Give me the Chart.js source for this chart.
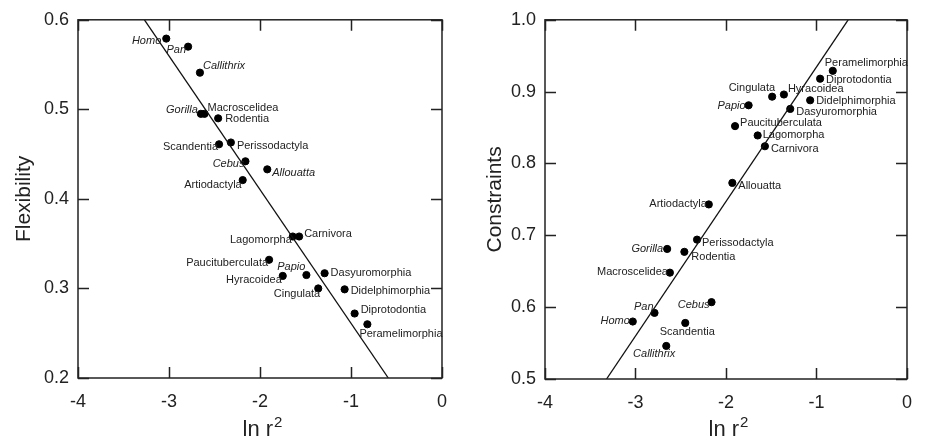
<!DOCTYPE html>
<html>
<head>
<meta charset="utf-8">
<script src="https://cdn.jsdelivr.net/npm/chart.js@4.4.1/dist/chart.umd.min.js"></script>
<style>
  html, body { margin: 0; padding: 0; background: #fff; }
  #wrap { position: relative; width: 925px; height: 444px; }
  #flexChart { position: absolute; left: 0; top: 0; }
  #consChart { position: absolute; left: 460px; top: 0; }
</style>
</head>
<body>
<div id="wrap">
  <canvas id="flexChart" width="460" height="444"></canvas>
  <canvas id="consChart" width="465" height="444"></canvas>
</div>
<script>
// taxa, same order in both panels
const taxa = [
  "Homo", "Pan", "Callithrix", "Gorilla", "Macroscelidea", "Rodentia", "Scandentia",
  "Perissodactyla", "Cebus", "Allouatta", "Artiodactyla", "Lagomorpha", "Carnivora",
  "Paucituberculata", "Hyracoidea", "Papio", "Dasyuromorphia", "Cingulata",
  "Didelphimorphia", "Diprotodontia", "Peramelimorphia"
];

// left panel: ln r2 vs flexibility
const flexX = [-3.03, -2.79, -2.66, -2.65, -2.61, -2.46, -2.45, -2.32, -2.16, -1.92, -2.19,
  -1.64, -1.57, -1.90, -1.75, -1.49, -1.29, -1.36, -1.07, -0.96, -0.82];
const flexY = [0.579, 0.570, 0.541, 0.495, 0.495, 0.490, 0.461, 0.463, 0.442, 0.433, 0.421,
  0.358, 0.358, 0.332, 0.314, 0.315, 0.317, 0.300, 0.299, 0.272, 0.260];
const flexFitX = [-3.27, -0.59];
const flexFitY = [0.6, 0.2];

// right panel: ln r2 vs constraints
const consX = [-3.03, -2.79, -2.66, -2.65, -2.62, -2.46, -2.45, -2.32, -2.16, -1.93, -2.19,
  -1.65, -1.57, -1.90, -1.36, -1.75, -1.29, -1.49, -1.07, -0.96, -0.82];
const consY = [0.580, 0.592, 0.546, 0.681, 0.648, 0.677, 0.578, 0.694, 0.607, 0.773, 0.743,
  0.839, 0.824, 0.852, 0.896, 0.881, 0.876, 0.893, 0.888, 0.918, 0.929];
const consFitX = [-3.32, -0.65];
const consFitY = [0.5, 1.0];

const xTicks = [-4, -3, -2, -1, 0];
const flexTicks = [0.2, 0.3, 0.4, 0.5, 0.6];
const consTicks = [0.5, 0.6, 0.7, 0.8, 0.9, 1.0];

// italic names
const italicLeft = ["Homo", "Pan", "Callithrix", "Gorilla", "Cebus", "Allouatta", "Papio"];
const italicRight = ["Homo", "Pan", "Callithrix", "Gorilla", "Cebus", "Papio"];

// label placement: [align, dx, dy]
const flexLabelPos = [
  ["right", -5, 2], ["right", -2, 3], ["left", 3, -7], ["right", -3, -4], ["left", 3, -6],
  ["left", 7, 1], ["right", -1, 3], ["left", 6, 3], ["right", -1, 3], ["left", 5, 4],
  ["right", -1, 5], ["right", -1, 3], ["left", 5, -3], ["right", -1, 3], ["right", -1, 4],
  ["right", -1, -8], ["left", 6, 0], ["right", 2, 6], ["left", 6, 2], ["left", 6, -4],
  ["left", -8, 10]
];
const consLabelPos = [
  ["right", -3, -1], ["right", -1, -6], ["right", 9, 8], ["right", -4, 0], ["right", -2, -1],
  ["left", 7, 5], ["center", 2, 9], ["left", 5, 3], ["right", -2, 3], ["left", 6, 3],
  ["right", -2, 0], ["left", 5, 0], ["left", 6, 3], ["left", 5, -3], ["left", 4, -6],
  ["right", -3, 1], ["left", 6, 3], ["right", 3, -9], ["left", 6, 1], ["left", 6, 1],
  ["left", -8, -8]
];

const FONT = "'Liberation Sans', Arial, Helvetica, sans-serif";
const INK = "#222";

// frame, inward ticks on all four sides, and the x title with superscript
const framePlugin = {
  id: "frame",
  afterDraw(chart) {
    const { ctx, chartArea: a, scales } = chart;
    const tl = 11;
    ctx.save();
    ctx.strokeStyle = INK;
    ctx.lineWidth = 1.5;
    ctx.strokeRect(a.left, a.top, a.right - a.left, a.bottom - a.top);
    ctx.beginPath();
    scales.x.ticks.forEach(t => {
      const px = Math.round(scales.x.getPixelForValue(t.value)) + 0.5;
      ctx.moveTo(px, a.bottom); ctx.lineTo(px, a.bottom - tl);
      ctx.moveTo(px, a.top); ctx.lineTo(px, a.top + tl);
    });
    scales.y.ticks.forEach(t => {
      const py = Math.round(scales.y.getPixelForValue(t.value)) + 0.5;
      ctx.moveTo(a.left, py); ctx.lineTo(a.left + tl, py);
      ctx.moveTo(a.right, py); ctx.lineTo(a.right - tl, py);
    });
    ctx.stroke();

    // ln r^2
    ctx.fillStyle = INK;
    ctx.textBaseline = "alphabetic";
    ctx.font = "22px " + FONT;
    const main = "ln r";
    const w1 = ctx.measureText(main).width;
    ctx.font = "15px " + FONT;
    const w2 = ctx.measureText("2").width;
    const cx = (a.left + a.right) / 2 + 2;
    const x0 = cx - (w1 + w2) / 2;
    ctx.font = "22px " + FONT;
    ctx.textAlign = "left";
    ctx.fillText(main, x0, 436);
    ctx.font = "15px " + FONT;
    ctx.fillText("2", x0 + w1 + 1, 427);
    ctx.restore();
  }
};

// taxon names next to the dots
const labelPlugin = {
  id: "taxonLabels",
  afterDatasetsDraw(chart, args, opts) {
    const { ctx, scales } = chart;
    ctx.save();
    ctx.fillStyle = INK;
    ctx.textBaseline = "middle";
    opts.xs.forEach((xv, i) => {
      const name = taxa[i];
      const [align, dx, dy] = opts.pos[i];
      const px = scales.x.getPixelForValue(xv);
      const py = scales.y.getPixelForValue(opts.ys[i]);
      ctx.font = (opts.italic.includes(name) ? "italic " : "") + "11px " + FONT;
      ctx.textAlign = align;
      ctx.fillText(name, px + dx, py + dy);
    });
    ctx.restore();
  }
};

function makeChart(id, xs, ys, fitX, fitY, yTicks, yTitle, pos, italic, dims) {
  const ctx = document.getElementById(id).getContext("2d");
  const points = xs.map((x, i) => ({ x, y: ys[i] }));
  const fit = fitX.map((x, i) => ({ x, y: fitY[i] }));

  return new Chart(ctx, {
    type: "scatter",
    data: {
      datasets: [
        {
          type: "line",
          data: fit,
          borderColor: "#111",
          borderWidth: 1.3,
          pointRadius: 0,
          fill: false
        },
        {
          data: points,
          backgroundColor: "#000",
          borderColor: "#000",
          pointRadius: 3.6,
          pointHoverRadius: 3.6
        }
      ]
    },
    options: {
      responsive: false,
      animation: false,
      devicePixelRatio: 1,
      layout: { padding: { top: 12, right: dims.padRight, left: 0, bottom: 0 } },
      plugins: {
        legend: { display: false },
        tooltip: { enabled: false },
        taxonLabels: { xs, ys, pos, italic }
      },
      scales: {
        x: {
          type: "linear",
          min: xTicks[0],
          max: xTicks[xTicks.length - 1],
          afterBuildTicks: s => { s.ticks = xTicks.map(v => ({ value: v })); },
          afterFit: s => { s.height = dims.xHeight; },
          grid: { display: false, drawTicks: false },
          border: { display: false },
          ticks: {
            padding: 13,
            color: INK,
            font: { family: FONT, size: 18 },
            callback: v => String(v)
          }
        },
        y: {
          type: "linear",
          min: yTicks[0],
          max: yTicks[yTicks.length - 1],
          afterBuildTicks: s => { s.ticks = yTicks.map(v => ({ value: v })); },
          afterFit: s => { s.width = dims.yWidth; },
          grid: { display: false, drawTicks: false },
          border: { display: false },
          ticks: {
            padding: 9,
            color: INK,
            font: { family: FONT, size: 18 },
            callback: v => Number(v).toFixed(1)
          },
          title: {
            display: true,
            text: yTitle,
            color: INK,
            font: { family: FONT, size: 21 },
            padding: { top: dims.titlePad, bottom: 0 }
          }
        }
      }
    },
    plugins: [labelPlugin, framePlugin]
  });
}

makeChart("flexChart", flexX, flexY, flexFitX, flexFitY, flexTicks, "Flexibility",
  flexLabelPos, italicLeft, { padRight: 15, xHeight: 66, yWidth: 78, titlePad: 12 });
makeChart("consChart", consX, consY, consFitX, consFitY, consTicks, "Constraints",
  consLabelPos, italicRight, { padRight: 13, xHeight: 65, yWidth: 85, titlePad: 23 });
</script>
</body>
</html>
